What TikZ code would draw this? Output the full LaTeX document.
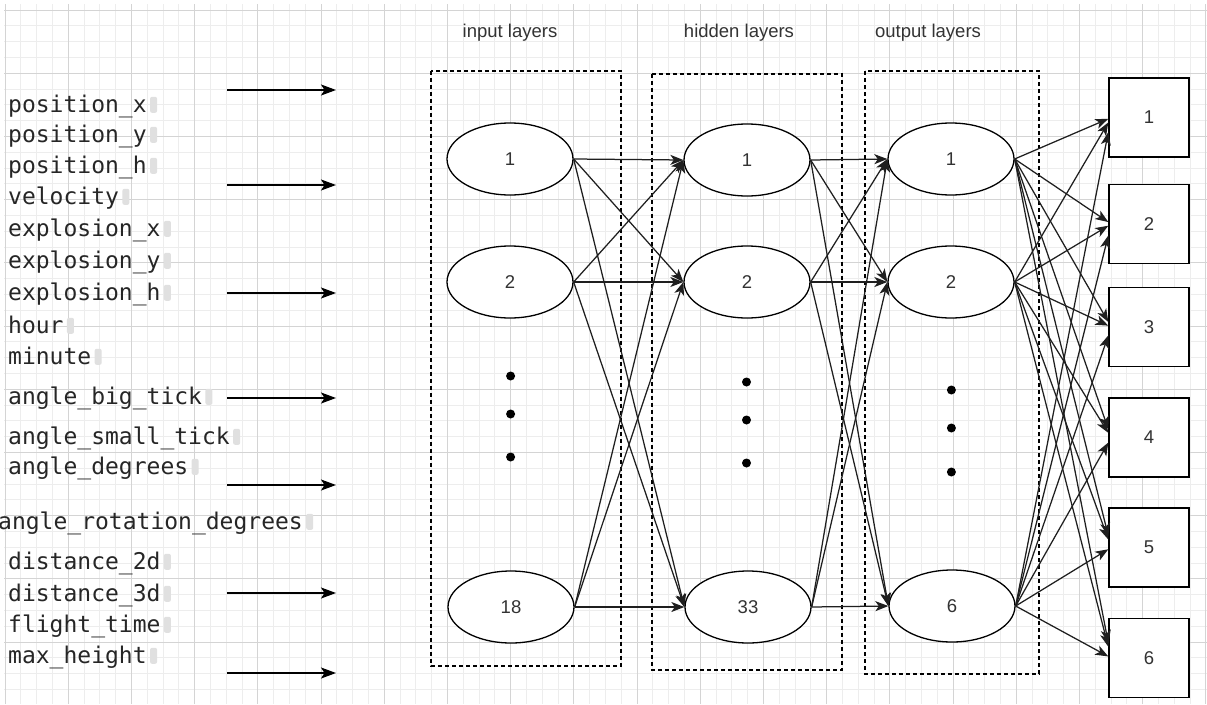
\documentclass[tikz,border=0pt]{standalone}
\usepackage{fontspec}
\setmainfont{Liberation Sans}
\newfontfamily\codefont{DejaVu Sans Mono}
\usetikzlibrary{arrows.meta,calc,positioning,shapes.geometric}

\tikzset{
    neuron/.style={draw, ellipse, line width=1.3pt, minimum width=126pt, minimum height=72pt, inner sep=0pt, fill=white, text=black!80, font=\fontsize{18.5}{20}\selectfont},
    outbox/.style={draw, line width=1.4pt, minimum width=80pt, minimum height=79pt, inner sep=0pt, fill=white, text=black!80, font=\fontsize{18.5}{20}\selectfont},
    layerbox/.style={draw, line width=1.3pt, dash pattern=on 4pt off 3pt},
    layertitle/.style={text=black!80, font=\fontsize{18.5}{20}\selectfont},
    field/.style={anchor=base west, inner sep=0pt, text=black!85, font=\codefont\fontsize{23}{25}\selectfont},
    caret/.style={fill=black!12, rounded corners=2pt, minimum width=7pt, minimum height=16pt, inner sep=0pt, anchor=south west},
    dot/.style={fill, circle, inner sep=0pt, minimum size=9pt},
    link/.style={-{Stealth[length=13pt,width=10pt,inset=3.5pt]}, line width=1.25pt, black!88},
    feed/.style={-{Stealth[length=15pt,width=11pt,inset=3.5pt]}, line width=1.5pt},
}

\begin{document}
\begin{tikzpicture}[x=1pt, y=-1pt]
    \useasboundingbox (0,0) rectangle (1207,704);
    \fill[white] (0,0) rectangle (1207,704);
    \draw[black!7, line width=0.8pt, step=15.8pt, shift={(5,10)}] (-1,-6) grid (1202,694);
    \draw[black!17, line width=0.8pt, step=63.2pt, shift={(5,10)}] (-1,-6) grid (1202,694);

    \node[layertitle] (tin) at (510,33) {input layers};
    \node[layertitle] (thid) at (739,33) {hidden layers};
    \node[layertitle] (tout) at (928,33) {output layers};

    \draw[layerbox] (431,71) rectangle (621,666);
    \draw[layerbox] (652,74) rectangle (842,670);
    \draw[layerbox] (865,71) rectangle (1039,674);

    \foreach \x/\y/\t [count=\k] in {8/112/position\_x, 8/142/position\_y, 8/173/position\_h, 8/204/velocity,
            8/236/explosion\_x, 8/268/explosion\_y, 8/300/explosion\_h, 8/333/hour, 8/364/minute,
            8/404/angle\_big\_tick, 8/444/angle\_small\_tick, 8/474/angle\_degrees,
            -2/529/angle\_rotation\_degrees, 8/569/distance\_2d, 8/601/distance\_3d,
            8/632/flight\_time, 8/663/max\_height} {
        \node[field] (f\k) at (\x,\y) {\t};
        \node[caret] (c\k) at ([xshift=3pt, yshift=-1pt]f\k.base east) {};
    }

    \foreach \y [count=\k] in {90,185,293,398,485,593,673} {
        \coordinate (s\k) at (227,\y);
        \coordinate (e\k) at (336,\y);
        \draw[feed] (s\k) -- (e\k);
    }

    \node[neuron] (i1) at (510,159) {1};
    \node[neuron] (i2) at (510,282) {2};
    \node[neuron] (i3) at (511,607) {18};

    \node[neuron] (h1) at (747,160) {1};
    \node[neuron] (h2) at (747,282) {2};
    \node[neuron] (h3) at (748,607) {33};

    \node[neuron] (o1) at (951,159) {1};
    \node[neuron] (o2) at (951,282) {2};
    \node[neuron] (o3) at (952,606) {6};

    \foreach \n/\y in {1/117.5, 2/224, 3/327, 4/437.5, 5/547.5, 6/658}
        \node[outbox] (b\n) at (1149,\y) {\n};

    \foreach \y [count=\k] in {376,414,457}
        \node[dot] (di\k) at (510.6,\y) {};
    \foreach \y [count=\k] in {382,420,463}
        \node[dot] (dh\k) at (746.5,\y) {};
    \foreach \y [count=\k] in {390,428,472}
        \node[dot] (do\k) at (951.4,\y) {};

    \foreach \a in {1,2,3}
        \foreach \b in {1,2,3} {
            \draw[link] (i\a.east) -- (h\b.west);
            \draw[link] (h\a.east) -- (o\b.west);
        }
    \foreach \a in {1,2,3}
        \foreach \b in {1,...,6}
            \draw[link] let \p1=(o\a.east), \p2=(b\b.west) in
                (\p1) -- (\x2,{\y2+0.03*(\y1-\y2)});
\end{tikzpicture}
\end{document}
